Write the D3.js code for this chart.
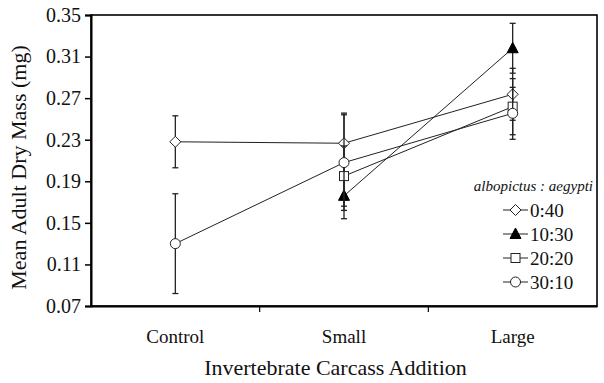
<!DOCTYPE html>
<html>
<head>
<meta charset="utf-8">
<script src="https://cdn.jsdelivr.net/npm/d3@7"></script>
<style>
  body { margin: 0; background: #fff; }
  svg { display: block; }
  svg text { font-family: "Liberation Serif", "Times New Roman", serif; }
</style>
</head>
<body>
<svg id="chart" width="604" height="383"></svg>
<script>

var categories = ["Control", "Small", "Large"];
var yTicks = [0.07, 0.11, 0.15, 0.19, 0.23, 0.27, 0.31, 0.35];

// ratio albopictus : aegypti, means and error (mg)
var seriesNames = ["0:40", "10:30", "20:20", "30:10"];
var seriesSymbols = ["diamond", "triangle", "square", "circle"];

var means040 = [0.228, 0.2266, 0.2737];
var err040 = [0.025, 0.029, 0.025];

var means1030 = [null, 0.176, 0.318];
var err1030 = [null, 0.022, 0.024];

var means2020 = [null, 0.195, 0.2618];
var err2020 = [null, 0.029, 0.027];

var means3010 = [0.13, 0.208, 0.2554];
var err3010 = [0.048, 0.046, 0.025];

var series = [
	{name: seriesNames[0], symbol: seriesSymbols[0], means: means040, err: err040},
	{name: seriesNames[1], symbol: seriesSymbols[1], means: means1030, err: err1030},
	{name: seriesNames[2], symbol: seriesSymbols[2], means: means2020, err: err2020},
	{name: seriesNames[3], symbol: seriesSymbols[3], means: means3010, err: err3010}
];

var svg = d3.select("#chart");

var plotLeft = 91, plotRight = 597, plotTop = 15, plotBottom = 306;

var xScale = d3.scaleBand()
	.domain(categories)
	.range([plotLeft, plotRight]);

var yScale = d3.scaleLinear()
	.domain([0.07, 0.35])
	.range([plotBottom, plotTop]);

var lineColor = "#222";

function drawSymbol(g, type, x, y) {
	if (type == "diamond") {
		g.append("path")
			.attr("d", "M" + x + "," + (y - 5.5) + "L" + (x + 5.5) + "," + y + "L" + x + "," + (y + 5.5) + "L" + (x - 5.5) + "," + y + "Z")
			.attr("fill", "#fff").attr("stroke", lineColor).attr("stroke-width", 1);
	} else if (type == "triangle") {
		g.append("path")
			.attr("d", "M" + x + "," + (y - 6) + "L" + (x + 5.5) + "," + (y + 4.5) + "L" + (x - 5.5) + "," + (y + 4.5) + "Z")
			.attr("fill", "#000").attr("stroke", "#000").attr("stroke-width", 1);
	} else if (type == "square") {
		g.append("rect")
			.attr("x", x - 4.5).attr("y", y - 4.5)
			.attr("width", 9).attr("height", 9)
			.attr("fill", "#fff").attr("stroke", lineColor).attr("stroke-width", 1);
	} else {
		g.append("circle")
			.attr("cx", x).attr("cy", y).attr("r", 5)
			.attr("fill", "#fff").attr("stroke", lineColor).attr("stroke-width", 1);
	}
}

function cx(cat) {
	return xScale(cat) + xScale.bandwidth() / 2;
}

// frame
svg.append("rect")
	.attr("x", plotLeft).attr("y", plotTop)
	.attr("width", plotRight - plotLeft).attr("height", plotBottom - plotTop)
	.attr("fill", "none").attr("stroke", "#000").attr("stroke-width", 1.6);

// y axis
var yAxis = d3.axisLeft(yScale)
	.tickValues(yTicks)
	.tickSize(6)
	.tickPadding(4)
	.tickFormat(d3.format(".2f"));

var yG = svg.append("g")
	.attr("transform", "translate(" + plotLeft + ",0)")
	.call(yAxis);
yG.attr("font-family", null);
yG.select(".domain").attr("stroke-width", 2);
yG.selectAll(".tick line").attr("stroke-width", 1.5);
yG.selectAll(".tick text")
	.attr("font-size", 20)
	.attr("fill", "#111");

// x axis, ticks at band boundaries
var xG = svg.append("g")
	.attr("transform", "translate(0," + plotBottom + ")")
	.call(d3.axisBottom(xScale).tickSize(0).tickPadding(24));
xG.attr("font-family", null);
xG.select(".domain").attr("stroke-width", 2);
xG.selectAll(".tick text")
	.attr("font-size", 19)
	.attr("fill", "#111");

xG.selectAll("line.sep")
	.data(categories.slice(1))
	.enter()
	.append("line")
	.attr("class", "sep")
	.attr("x1", function(d) { return xScale(d); })
	.attr("x2", function(d) { return xScale(d); })
	.attr("y1", 0).attr("y2", 6)
	.attr("stroke", "#000").attr("stroke-width", 1.2);

// axis titles
svg.append("text")
	.attr("transform", "translate(26," + ((plotTop + plotBottom) / 2 + 7) + ") rotate(-90)")
	.attr("text-anchor", "middle")
	.attr("font-size", 22)
	.attr("fill", "#111")
	.text("Mean Adult Dry Mass (mg)");

svg.append("text")
	.attr("x", 335.5)
	.attr("y", 375)
	.attr("text-anchor", "middle")
	.attr("font-size", 22)
	.attr("fill", "#111")
	.text("Invertebrate Carcass Addition");

// series
var line = d3.line()
	.x(function(d) { return cx(d.c); })
	.y(function(d) { return yScale(d.v); });

series.forEach(function(s) {

	var pts = categories.map(function(c, i) {
		return {c: c, v: s.means[i], e: s.err[i]};
	}).filter(function(d) { return d.v != null; });

	var g = svg.append("g").attr("class", "series");

	// error bars
	pts.forEach(function(d) {
		var x = cx(d.c);
		var y1 = yScale(d.v + d.e), y2 = yScale(d.v - d.e);
		g.append("line")
			.attr("x1", x).attr("x2", x).attr("y1", y1).attr("y2", y2)
			.attr("stroke", lineColor).attr("stroke-width", 1.3);
		[y1, y2].forEach(function(yy) {
			g.append("line")
				.attr("x1", x - 3).attr("x2", x + 3).attr("y1", yy).attr("y2", yy)
				.attr("stroke", lineColor).attr("stroke-width", 1.3);
		});
	});

	g.append("path")
		.datum(pts)
		.attr("d", line)
		.attr("fill", "none")
		.attr("stroke", lineColor)
		.attr("stroke-width", 1);

	pts.forEach(function(d) {
		drawSymbol(g, s.symbol, cx(d.c), yScale(d.v));
	});

});

// legend
var legend = svg.append("g").attr("class", "legend");

legend.append("text")
	.attr("x", 593)
	.attr("y", 191)
	.attr("text-anchor", "end")
	.attr("font-style", "italic")
	.attr("font-size", 15)
	.attr("fill", "#111")
	.text("albopictus : aegypti");

series.forEach(function(s, i) {
	var y = 210 + i * 24;
	legend.append("line")
		.attr("x1", 503).attr("x2", 528)
		.attr("y1", y).attr("y2", y)
		.attr("stroke", lineColor).attr("stroke-width", 1);
	drawSymbol(legend, s.symbol, 515.5, y);
	legend.append("text")
		.attr("x", 530)
		.attr("y", y + 6.5)
		.attr("font-size", 19)
		.attr("fill", "#111")
		.text(s.name);
});

</script>
</body>
</html>
